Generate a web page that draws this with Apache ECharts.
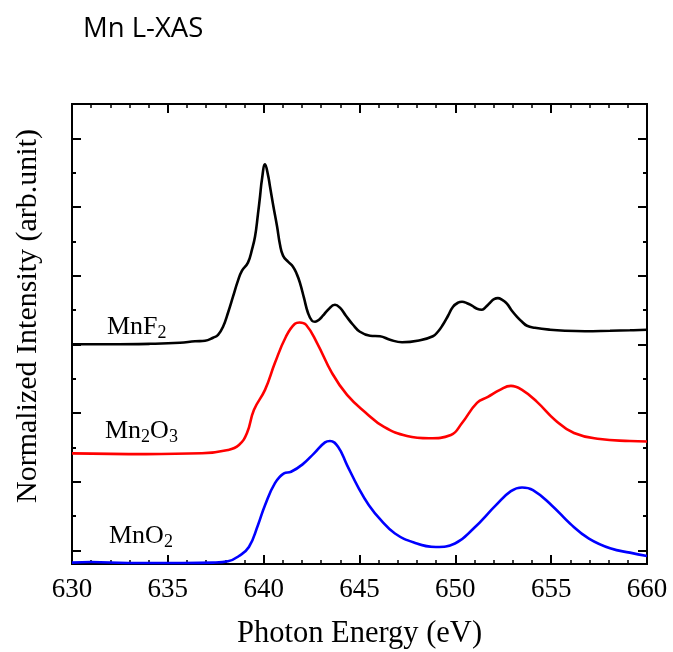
<!DOCTYPE html>
<html>
<head>
<meta charset="utf-8">
<title>Mn L-XAS</title>
<script src="https://cdn.jsdelivr.net/npm/echarts@6/dist/echarts.min.js"></script>
<style>
  html, body { margin: 0; padding: 0; background: #fff; }
  #chart { width: 673px; height: 652px; }
</style>
</head>
<body>
<div id="chart"></div>
<script>
// photon energy (eV) and normalized intensity (offset, arb. units)
const mnf2Energy = [630.00, 631.98, 634.07, 635.63, 636.42, 636.94, 637.36, 637.62, 637.88, 638.14,
  638.40, 638.66, 638.87, 639.18, 639.39, 639.55, 639.70, 639.81, 639.91, 640.07,
  640.23, 640.33, 640.49, 640.70, 640.85, 641.01, 641.27, 641.53, 641.74, 641.89,
  642.10, 642.31, 642.52, 642.68, 642.89, 643.09, 643.36, 643.72, 643.98, 644.29,
  644.66, 645.02, 645.55, 646.07, 646.59, 647.22, 648.15, 648.83, 649.09, 649.35,
  649.62, 649.88, 650.14, 650.35, 650.61, 650.87, 651.13, 651.39, 651.60, 651.81,
  652.02, 652.22, 652.43, 652.69, 652.95, 653.22, 653.48, 653.74, 654.15, 654.94,
  655.72, 656.76, 658.07, 659.11, 660.00];
const mnf2Intensity = [3.000, 3.000, 3.007, 3.022, 3.044, 3.051, 3.095, 3.139, 3.256, 3.460,
  3.693, 3.927, 4.073, 4.190, 4.380, 4.569, 4.891, 5.153, 5.401, 5.621,
  5.460, 5.299, 5.037, 4.715, 4.453, 4.292, 4.204, 4.131, 4.015, 3.898,
  3.679, 3.460, 3.343, 3.329, 3.358, 3.416, 3.504, 3.577, 3.533, 3.416,
  3.285, 3.183, 3.124, 3.117, 3.066, 3.029, 3.058, 3.117, 3.183, 3.285,
  3.416, 3.547, 3.606, 3.620, 3.599, 3.562, 3.518, 3.504, 3.547, 3.606,
  3.657, 3.672, 3.650, 3.591, 3.489, 3.401, 3.329, 3.270, 3.241, 3.212,
  3.197, 3.190, 3.197, 3.204, 3.212];

const mn2o3Energy = [630.00, 633.86, 636.78, 638.14, 638.71, 639.13, 639.49, 640.07, 640.59, 641.16,
  641.63, 641.87, 642.21, 642.78, 643.56, 644.35, 645.34, 646.28, 647.48, 648.62,
  649.77, 650.35, 651.13, 651.70, 652.33, 652.90, 653.48, 654.26, 655.20, 656.19,
  657.55, 659.11, 660.00];
const mn2o3Intensity = [1.412, 1.401, 1.412, 1.460, 1.533, 1.708, 2.044, 2.336, 2.730, 3.110,
  3.299, 3.318, 3.285, 3.022, 2.584, 2.263, 2.000, 1.796, 1.664, 1.631,
  1.679, 1.854, 2.146, 2.234, 2.336, 2.394, 2.336, 2.161, 1.898, 1.708,
  1.620, 1.591, 1.584];

const mno2Energy = [630.00, 630.99, 632.92, 635.79, 637.36, 638.14, 638.71, 639.23, 639.70, 640.07,
  640.59, 641.06, 641.43, 642.03, 642.63, 643.20, 643.46, 643.88, 644.35, 644.92,
  645.49, 646.12, 646.85, 647.84, 648.99, 649.98, 650.95, 652.12, 652.90, 653.48,
  654.05, 655.02, 655.98, 656.97, 658.12, 659.11, 660.00];
const mno2Intensity = [-0.180, -0.171, -0.185, -0.185, -0.180, -0.161, -0.083, 0.048, 0.365, 0.657,
  0.978, 1.120, 1.143, 1.251, 1.412, 1.572, 1.591, 1.508, 1.241, 0.924,
  0.657, 0.438, 0.244, 0.112, 0.048, 0.098, 0.317, 0.657, 0.861, 0.915,
  0.876, 0.657, 0.390, 0.171, 0.025, -0.034, -0.083];

// y ticks (no labels on the intensity axis)
const yMajorTicks = [0, 1, 2, 3, 4, 5, 6];
const yMinorTicks = [0.5, 1.5, 2.5, 3.5, 4.5, 5.5, 6.5];

const zip = (xs, ys) => xs.map((x, i) => [x, ys[i]]);

const serif = 'Liberation Serif';
const chart = echarts.init(document.getElementById('chart'));

function xAxisOf(position, showLabel) {
  return {
    type: 'value',
    position: position,
    min: 630,
    max: 660,
    interval: 5,
    name: showLabel ? 'Photon Energy (eV)' : '',
    nameLocation: 'middle',
    nameGap: 54,
    nameTextStyle: { fontFamily: serif, fontSize: 30.5, color: '#000' },
    axisLine: { show: true, onZero: false, lineStyle: { color: '#000', width: 2 } },
    axisTick: { show: true, inside: true, length: 9, lineStyle: { color: '#000', width: 2 } },
    minorTick: { show: true, splitNumber: 5, length: 4, lineStyle: { color: '#000', width: 1.5 } },
    axisLabel: { show: showLabel, margin: 12, fontFamily: serif, fontSize: 27, color: '#000' },
    splitLine: { show: false }
  };
}

function yAxisOf(position, ticks, len, withName) {
  return {
    type: 'value',
    position: position,
    min: -0.2,
    max: 6.5,
    name: withName ? 'Normalized Intensity (arb.unit)' : '',
    nameLocation: 'middle',
    nameGap: 29,
    nameTextStyle: { fontFamily: serif, fontSize: 30, color: '#000', padding: [0, 0, 0, 36] },
    axisLine: { show: true, onZero: false, lineStyle: { color: '#000', width: 2 } },
    axisTick: { show: true, inside: true, length: len, customValues: ticks, lineStyle: { color: '#000', width: 2 } },
    axisLabel: { show: false },
    splitLine: { show: false }
  };
}

function lineSeries(name, data, color) {
  return {
    name: name,
    type: 'line',
    xAxisIndex: 0,
    yAxisIndex: 0,
    data: data,
    showSymbol: false,
    symbol: 'none',
    smooth: 0.45,
    lineStyle: { color: color, width: 2.6 },
    z: 3
  };
}

const subRich = {
  m: { fontFamily: serif, fontSize: 26, lineHeight: 30, color: '#000' },
  s: { fontFamily: serif, fontSize: 18, lineHeight: 10, verticalAlign: 'bottom', color: '#000' }
};

const option = {
  animation: false,
  backgroundColor: '#fff',
  grid: { left: 72, top: 104, right: 26, bottom: 88, containLabel: false, outerBoundsMode: 'none' },
  xAxis: [xAxisOf('bottom', true), xAxisOf('top', false)],
  yAxis: [
    yAxisOf('left', yMajorTicks, 9, true),
    yAxisOf('left', yMinorTicks, 4, false),
    yAxisOf('right', yMajorTicks, 9, false),
    yAxisOf('right', yMinorTicks, 4, false)
  ],
  series: [
    lineSeries('MnF2', zip(mnf2Energy, mnf2Intensity), '#000000'),
    lineSeries('Mn2O3', zip(mn2o3Energy, mn2o3Intensity), '#ff0000'),
    lineSeries('MnO2', zip(mno2Energy, mno2Intensity), '#0000ff')
  ],
  graphic: [
    {
      type: 'text', left: 83, top: 15,
      style: { text: 'Mn L-XAS', fontFamily: 'Open Sans', fontSize: 27.5, fill: '#000' }
    },
    {
      type: 'text', left: 107, top: 314,
      style: { text: '{m|MnF}{s|2}', rich: subRich }
    },
    {
      type: 'text', left: 105, top: 418,
      style: { text: '{m|Mn}{s|2}{m|O}{s|3}', rich: subRich }
    },
    {
      type: 'text', left: 109, top: 523,
      style: { text: '{m|MnO}{s|2}', rich: subRich }
    }
  ]
};

chart.setOption(option);
</script>
</body>
</html>
